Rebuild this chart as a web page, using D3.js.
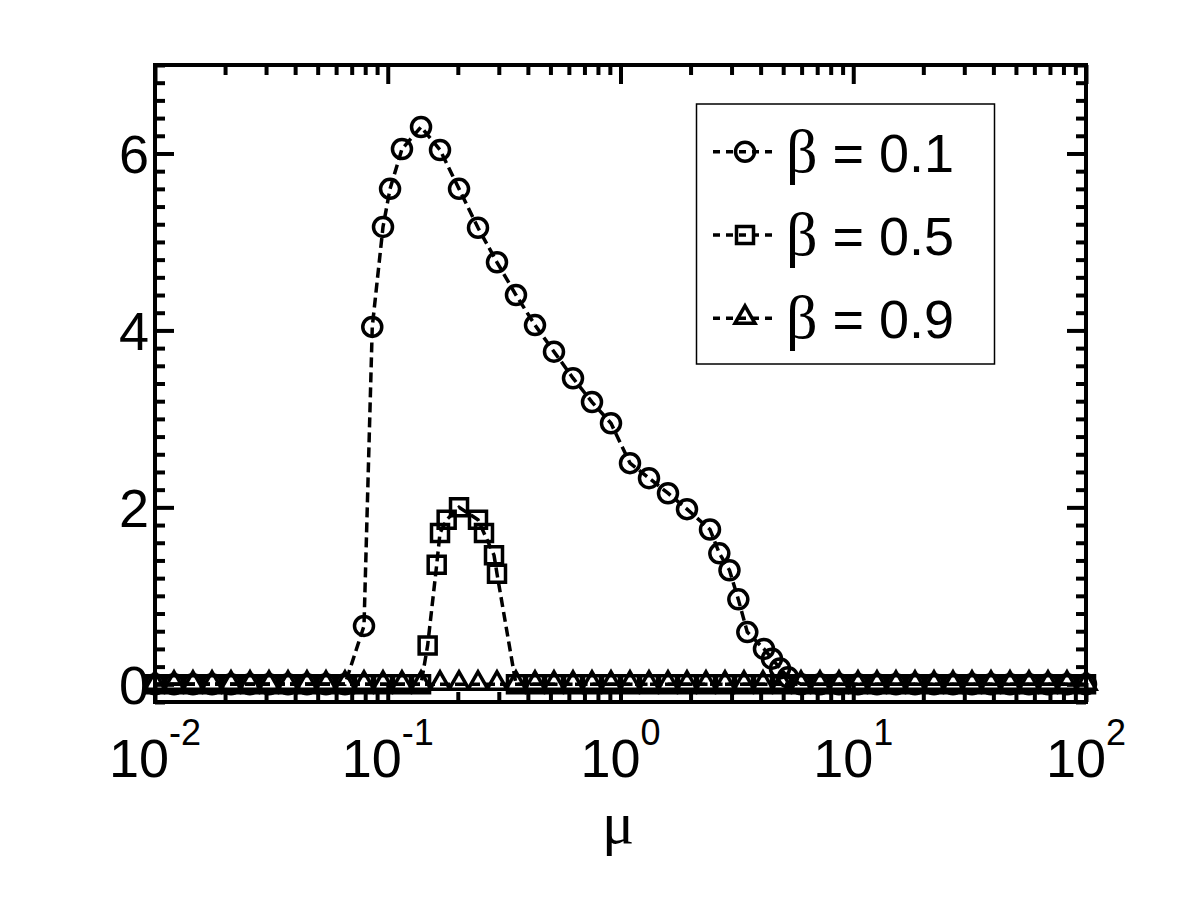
<!DOCTYPE html>
<html>
<head>
<meta charset="utf-8">
<script src="https://cdn.jsdelivr.net/npm/d3@7"></script>
<style>
  html, body { margin: 0; padding: 0; background: #fff; }
  svg { display: block; }
</style>
</head>
<body>
<script>
// ---------------- DATA ----------------
const muGrid = [0.01, 0.01207, 0.01456, 0.01758, 0.02121, 0.02560, 0.03089, 0.03728, 0.04498, 0.05429,
  0.06551, 0.07906, 0.09541, 0.1151, 0.1390, 0.1677, 0.2024, 0.2442, 0.2947, 0.3556,
  0.4292, 0.5179, 0.6251, 0.7543, 0.9103, 1.0985, 1.3257, 1.5999, 1.9307, 2.3300,
  2.8118, 3.3932, 4.0949, 4.9417, 5.9636, 7.1969, 8.6851, 10.481, 12.649, 15.264,
  18.421, 22.230, 26.827, 32.375, 39.069, 47.149, 56.899, 68.665, 82.864, 100];

const mu_b01 = [0.01, 0.01207, 0.01456, 0.01758, 0.02121, 0.02560, 0.03089, 0.03728, 0.04498, 0.05429,
  0.06551, 0.07906, 0.0858, 0.09541, 0.1023, 0.1151, 0.1390, 0.1677, 0.2024, 0.2442,
  0.2947, 0.3556, 0.4292, 0.5179, 0.6251, 0.7543, 0.9103, 1.0985, 1.3257, 1.5999,
  1.9307, 2.424, 2.658, 2.939, 3.208, 3.506, 4.135, 4.476, 4.845, 5.244,
  5.9636, 7.1969, 8.6851, 10.481, 12.649, 15.264, 18.421, 22.230, 26.827, 32.375,
  39.069, 47.149, 56.899, 68.665, 82.864, 100];
const val_b01 = [0, 0, 0, 0, 0, 0, 0, 0, 0, 0,
  0, 0.66, 4.04, 5.17, 5.60, 6.05, 6.30, 6.04, 5.60, 5.16,
  4.77, 4.40, 4.06, 3.76, 3.46, 3.19, 2.95, 2.50, 2.33, 2.16,
  1.98, 1.75, 1.48, 1.29, 0.96, 0.59, 0.40, 0.29, 0.18, 0.08,
  0, 0, 0, 0, 0, 0, 0, 0, 0, 0,
  0, 0, 0, 0, 0, 0];

const mu_b05 = [0.01, 0.01207, 0.01456, 0.01758, 0.02121, 0.02560, 0.03089, 0.03728, 0.04498, 0.05429,
  0.06551, 0.07906, 0.09541, 0.1151, 0.1390, 0.1484, 0.1623, 0.1677, 0.1791, 0.2024,
  0.2442, 0.2591, 0.2861, 0.2947, 0.3556, 0.4292, 0.5179, 0.6251, 0.7543, 0.9103,
  1.0985, 1.3257, 1.5999, 1.9307, 2.3300, 2.8118, 3.3932, 4.0949, 4.9417, 5.9636,
  7.1969, 8.6851, 10.481, 12.649, 15.264, 18.421, 22.230, 26.827, 32.375, 39.069,
  47.149, 56.899, 68.665, 82.864, 100];
const val_b05 = [0, 0, 0, 0, 0, 0, 0, 0, 0, 0,
  0, 0, 0, 0, 0, 0.44, 1.35, 1.71, 1.86, 2.00,
  1.86, 1.71, 1.46, 1.25, 0, 0, 0, 0, 0, 0,
  0, 0, 0, 0, 0, 0, 0, 0, 0, 0,
  0, 0, 0, 0, 0, 0, 0, 0, 0, 0,
  0, 0, 0, 0, 0];

const mu_b09 = muGrid;
const val_b09 = [0, 0, 0, 0, 0, 0, 0, 0, 0, 0,
  0, 0, 0, 0, 0, 0, 0, 0, 0, 0,
  0, 0, 0, 0, 0, 0, 0, 0, 0, 0,
  0, 0, 0, 0, 0, 0, 0, 0, 0, 0,
  0, 0, 0, 0, 0, 0, 0, 0, 0, 0];

const seriesNames = ["0.1", "0.5", "0.9"];
const seriesMarkers = ["circle", "square", "triangle"];
const xMajorTicks = [0.01, 0.1, 1, 10, 100];
const xTickExponents = ["-2", "-1", "0", "1", "2"];
const yMajorTicks = [0, 2, 4, 6];
const yTickLabels = ["0", "2", "4", "6"];
const xLabel = "\u03BC";
const legendSymbol = "\u03B2";

// ---------------- LAYOUT ----------------
const W = 1200, H = 900;
const sans = "'Liberation Sans', Arial, Helvetica, sans-serif";
const serif = "'Liberation Serif', 'Times New Roman', serif";

const svg = d3.select("body").append("svg").attr("width", W).attr("height", H);
svg.append("rect").attr("width", W).attr("height", H).attr("fill", "#fff");

const x = d3.scaleLog().domain([0.01, 100]).range([155, 1086]);
const y = d3.scaleLinear().domain([-0.2, 7]).range([702, 65]);
const [x0, x1] = x.range();
const [y0, y1] = y.range();

const axisW = 4;
const g = svg.append("g");

// minor ticks
const xMinor = x.ticks().filter(v => !xMajorTicks.some(m => Math.abs(m - v) / m < 1e-9));
const yMinor = d3.range(-0.2, 7.001, 0.2).map(v => +v.toFixed(2)).filter(v => !yMajorTicks.includes(v));

function tickAxis(axisFn, scale, vals, len, transform) {
  const a = axisFn(scale).tickValues(vals).tickSize(len).tickFormat("");
  const gg = g.append("g").attr("transform", transform).call(a);
  gg.select(".domain").remove();
  gg.selectAll(".tick line").attr("stroke", "#000").attr("stroke-width", axisW);
}
// bottom & top (inward)
tickAxis(d3.axisBottom, x, xMinor, -10, `translate(0,${y0})`);
tickAxis(d3.axisBottom, x, xMajorTicks, -19, `translate(0,${y0})`);
tickAxis(d3.axisTop, x, xMinor, -10, `translate(0,${y1})`);
tickAxis(d3.axisTop, x, xMajorTicks, -19, `translate(0,${y1})`);
// left & right (inward)
tickAxis(d3.axisLeft, y, yMinor, -10, `translate(${x0},0)`);
tickAxis(d3.axisLeft, y, yMajorTicks, -19, `translate(${x0},0)`);
tickAxis(d3.axisRight, y, yMinor, -10, `translate(${x1},0)`);
tickAxis(d3.axisRight, y, yMajorTicks, -19, `translate(${x1},0)`);

// frame
g.append("rect").attr("x", x0).attr("y", y1).attr("width", x1 - x0).attr("height", y0 - y1)
  .attr("fill", "none").attr("stroke", "#000").attr("stroke-width", axisW);

// y tick labels
g.selectAll(".ylab").data(yMajorTicks).join("text")
  .attr("x", 149).attr("y", d => y(d) + 20)
  .attr("text-anchor", "end").attr("font-family", sans).attr("font-size", 54)
  .text((d, i) => yTickLabels[i]);

// x tick labels with superscripts
xMajorTicks.forEach((v, i) => {
  const t = g.append("text").attr("x", x(v)).attr("y", 777)
    .attr("text-anchor", "middle").attr("font-family", sans).attr("font-size", 54);
  t.append("tspan").text("10");
  t.append("tspan").attr("dy", -32).attr("font-size", 36).text(xTickExponents[i]);
});

// x label
g.append("text").attr("x", 618).attr("y", 843)
  .attr("text-anchor", "middle").attr("font-family", serif).attr("font-size", 60)
  .text(xLabel);

// ---------------- SERIES ----------------
const lineW = 3.5;
const dash = "10,5";
const markerPath = {
  circle: "M-9.5,0a9.5,9.5 0 1,0 19,0a9.5,9.5 0 1,0 -19,0Z",
  square: "M-8.5,-8.5H8.5V8.5H-8.5Z",
  triangle: "M0,-12.5L10,5L-10,5Z"
};
const line = d3.line().x(d => x(d[0])).y(d => y(d[1]));

const series = [
  { mu: mu_b01, val: val_b01 },
  { mu: mu_b05, val: val_b05 },
  { mu: mu_b09, val: val_b09 }
];

series.forEach((s, i) => {
  const pts = s.mu.map((m, j) => [m, s.val[j]]);
  const sg = svg.append("g");
  sg.append("path").attr("d", line(pts)).attr("fill", "none")
    .attr("stroke", "#000").attr("stroke-width", lineW).attr("stroke-dasharray", dash);
  sg.selectAll("path.m").data(pts).join("path").attr("class", "m")
    .attr("transform", d => `translate(${x(d[0])},${y(d[1])})`)
    .attr("d", markerPath[seriesMarkers[i]])
    .attr("fill", "none").attr("stroke", "#000").attr("stroke-width", lineW);
});

// ---------------- LEGEND ----------------
const lg = svg.append("g");
lg.append("rect").attr("x", 696.5).attr("y", 104).attr("width", 298).attr("height", 260)
  .attr("fill", "#fff").attr("stroke", "#000").attr("stroke-width", 1.5);
const rowY = [151.7, 235, 318.3];
seriesNames.forEach((name, i) => {
  const cy = rowY[i];
  lg.append("line").attr("x1", 713).attr("x2", 777).attr("y1", cy).attr("y2", cy)
    .attr("stroke", "#000").attr("stroke-width", lineW).attr("stroke-dasharray", "7,6");
  lg.append("path").attr("transform", `translate(745,${cy})`)
    .attr("d", markerPath[seriesMarkers[i]])
    .attr("fill", "none").attr("stroke", "#000").attr("stroke-width", lineW);
  const t = lg.append("text").attr("x", 786).attr("y", cy + 20)
    .attr("font-family", sans).attr("font-size", 54);
  t.append("tspan").attr("font-family", serif).attr("font-size", 62).text(legendSymbol);
  t.append("tspan").text(" = " + name);
});
</script>
</body>
</html>
